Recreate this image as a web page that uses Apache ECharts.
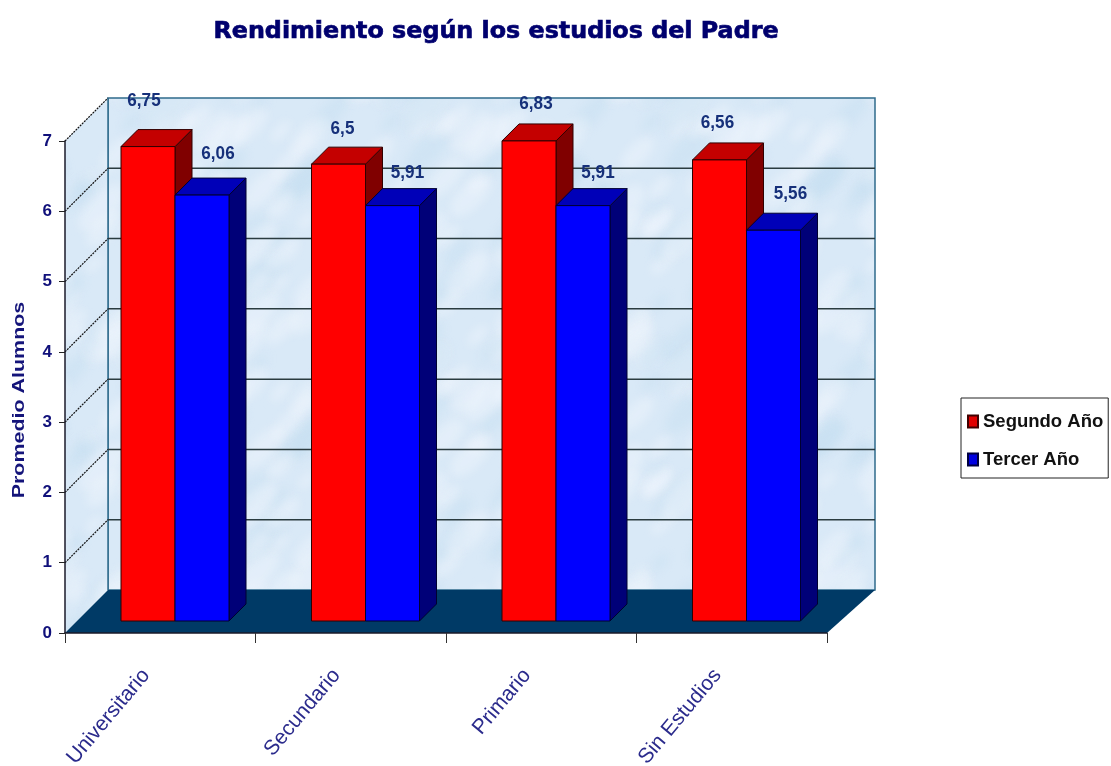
<!DOCTYPE html>
<html>
<head>
<meta charset="utf-8">
<style>
html, body { margin: 0; padding: 0; background: #fff; }
#chart { width: 1111px; height: 766px; }
</style>
<script src="https://cdn.jsdelivr.net/npm/echarts@6/dist/echarts.min.js"></script>
</head>
<body>
<div id="chart"></div>
<script>
var categories = ['Universitario', 'Secundario', 'Primario', 'Sin Estudios'];
var segundoAno = [6.75, 6.5, 6.83, 6.56];
var tercerAno = [6.06, 5.91, 5.91, 5.56];
var yTicks = [1, 2, 3, 4, 5, 6];
var valueLabels = [['6,75', '6,5', '6,83', '6,56'], ['6,06', '5,91', '5,91', '5,56']];

// 3d look of the old chart, in pixels
var wallDepth = 43;
var wallDepthRight = 48;
var barInset = 12;
var barDepth = 17;
var barStart = 56;
var barWidth = 54;
var redNudge = [[-4, -46], [4, -35], [7, -37], [-2, -37]];
var blueNudge = [[16, -41], [15, -33], [15, -33], [17, -36]];

// light blue marble of the walls
function wallTexture() {
	var c = document.createElement('canvas');
	c.width = 260;
	c.height = 260;
	var ctx = c.getContext('2d');
	ctx.fillStyle = '#d9e9f7';
	ctx.fillRect(0, 0, 260, 260);
	ctx.filter = 'blur(5px)';
	for (var i = 0; i < 70; i++) {
		var x = Math.abs(i * 97 + 31 * Math.sin(i * 1.7)) % 260;
		var y = Math.abs(i * 61 + 43 * Math.cos(i * 2.3) + 60) % 260;
		var r = 10 + (i * 7) % 22;
		ctx.fillStyle = i % 3 === 0 ? 'rgba(190,218,240,0.3)' : 'rgba(245,250,254,0.35)';
		// draw over the tile edges too so the repeat has no seams
		for (var ox = -260; ox <= 260; ox += 260) {
			for (var oy = -260; oy <= 260; oy += 260) {
				ctx.beginPath();
				ctx.ellipse(x + ox, y + oy, r, r * 0.45, -0.8, 0, Math.PI * 2);
				ctx.fill();
			}
		}
	}
	return c;
}
var texture = wallTexture();

function renderWalls(params, api) {
	var band = api.size([1, 0])[0];
	var left = api.coord([0, 0])[0] - band / 2;
	var right = left + band * categories.length;
	var y0 = api.coord([0, 0])[1];
	var yTop = api.coord([0, 7])[1];
	var d = wallDepth;
	var dr = wallDepthRight;
	var children = [
		{ type: 'polygon', shape: { points: [[left + d, yTop - d], [right + dr, yTop - d], [right + dr, y0 - d], [left + d, y0 - d]] },
			style: { fill: { image: texture, repeat: 'repeat' }, stroke: '#2f6b8c', lineWidth: 1.5 } },
		{ type: 'polygon', shape: { points: [[left, y0], [left, yTop], [left + d, yTop - d], [left + d, y0 - d]] },
			style: { fill: { image: texture, repeat: 'repeat' } } },
		{ type: 'line', shape: { x1: left, y1: yTop, x2: left + d, y2: yTop - d },
			style: { stroke: '#111', lineWidth: 1.2, lineDash: [2, 1] } },
		{ type: 'line', shape: { x1: left + d, y1: yTop - d, x2: left + d, y2: y0 - d },
			style: { stroke: '#2f6b8c', lineWidth: 1.5 } }
	];
	yTicks.forEach(function (t) {
		var y = api.coord([0, t])[1];
		children.push({ type: 'line', shape: { x1: left, y1: y, x2: left + d, y2: y - d },
			style: { stroke: '#111', lineWidth: 1.2, lineDash: [2, 1] } });
		children.push({ type: 'line', shape: { x1: left + d, y1: y - d, x2: right + dr, y2: y - d },
			style: { stroke: '#2a3b3f', lineWidth: 1.5 } });
	});
	children.push({ type: 'polygon', shape: { points: [[left, y0], [right, y0], [right + dr, y0 - d], [left + d, y0 - d]] },
		style: { fill: '#003a66' } });
	// axis title, the original is stretched along the text
	children.push({ type: 'text', x: 20, y: 400, rotation: Math.PI / 2, scaleX: 1.34,
		style: { x: 0, y: 0, text: 'Promedio Alumnos', fill: '#14147a', align: 'center', verticalAlign: 'middle',
			font: 'bold 16px "Liberation Sans"' } });
	return { type: 'group', children: children };
}

function barRenderer(seriesIndex, front, top, side, edge, nudge) {
	return function (params, api) {
		var i = api.value(0);
		var band = api.size([1, 0])[0];
		var w = barWidth;
		var x = api.coord([i, 0])[0] - band / 2 + barStart + seriesIndex * w;
		var yBase = api.coord([i, 0])[1] - barInset;
		var yTop = api.coord([i, api.value(1)])[1] - barInset;
		var d = barDepth;
		var line = { stroke: edge, lineWidth: 1 };
		return {
			type: 'group',
			children: [
				{ type: 'polygon', shape: { points: [[x + w, yTop], [x + w + d, yTop - d], [x + w + d, yBase - d], [x + w, yBase]] },
					style: Object.assign({ fill: side }, line) },
				{ type: 'polygon', shape: { points: [[x, yTop], [x + d, yTop - d], [x + w + d, yTop - d], [x + w, yTop]] },
					style: Object.assign({ fill: top }, line) },
				{ type: 'rect', shape: { x: x, y: yTop, width: w, height: yBase - yTop },
					style: Object.assign({ fill: front }, line) },
				{ type: 'text', x: x + w / 2 + nudge[i][0], y: yTop + nudge[i][1], scaleX: 0.95,
					style: {
						x: 0, y: 0,
						text: valueLabels[seriesIndex][i],
						fill: '#16307a', align: 'center', verticalAlign: 'middle',
						font: 'bold 18px "Liberation Sans", sans-serif'
					} }
			]
		};
	};
}

function pairs(values) {
	return values.map(function (v, i) { return [i, v]; });
}

var chart = echarts.init(document.getElementById('chart'));
var option = {
	animation: false,
	backgroundColor: '#fff',
	title: {
		text: 'Rendimiento según los estudios del Padre',
		left: 491,
		top: 15,
		textAlign: 'center',
		textStyle: { color: '#00006e', fontFamily: 'DejaVu Sans', fontWeight: 'bold', fontSize: 23.8,
			textBorderColor: '#00006e', textBorderWidth: 0.7 }
	},
	legend: {
		orient: 'vertical',
		left: 961,
		top: 398,
		data: ['Segundo Año', 'Tercer Año'],
		padding: [14, 5, 9, 6],
		itemGap: 19,
		itemWidth: 10,
		itemHeight: 12,
		borderColor: '#222',
		borderWidth: 1,
		icon: 'rect',
		textStyle: { color: '#111', fontFamily: 'Liberation Sans', fontWeight: 'bold', fontSize: 18.5, padding: [0, 0, 0, 0] }
	},
	grid: { left: 65, right: 284, top: 141, bottom: 133, outerBoundsMode: 'none' },
	xAxis: {
		type: 'category',
		data: categories,
		z: 5,
		axisLine: { lineStyle: { color: '#1a1a2a', width: 1.5 } },
		axisTick: { show: true, length: 10, lineStyle: { color: '#333' } },
		axisLabel: {
			rotate: 50,
			margin: 22,
			padding: [0, 22, 0, 0],
			color: '#2b2b8c',
			fontFamily: 'Liberation Sans',
			fontSize: 21
		}
	},
	yAxis: {
		type: 'value',
		min: 0,
		max: 7,
		interval: 1,
		z: 5,
		splitLine: { show: false },
		axisLine: { show: true, lineStyle: { color: '#1a1a2a', width: 1.5 } },
		axisTick: { show: true, length: 6, lineStyle: { color: '#222' } },
		axisLabel: {
			margin: 13,
			color: '#10107a',
			fontFamily: 'Liberation Sans',
			fontWeight: 'bold',
			fontSize: 17
		}
	},
	series: [
		{ type: 'custom', name: 'walls', z: 1, silent: true, renderItem: renderWalls, data: [[0, 0]] },
		{
			type: 'custom', name: 'Segundo Año', z: 2, silent: true,
			itemStyle: { color: '#e00000', borderColor: '#400000', borderWidth: 1 },
			renderItem: barRenderer(0, '#ff0000', '#c40000', '#800000', '#300000', redNudge),
			data: pairs(segundoAno)
		},
		{
			type: 'custom', name: 'Tercer Año', z: 3, silent: true,
			itemStyle: { color: '#0000e0', borderColor: '#000040', borderWidth: 1 },
			renderItem: barRenderer(1, '#0000ff', '#0000b8', '#000078', '#000030', blueNudge),
			data: pairs(tercerAno)
		}
	]
};
chart.setOption(option);
window.addEventListener('resize', chart.resize);
</script>
</body>
</html>
